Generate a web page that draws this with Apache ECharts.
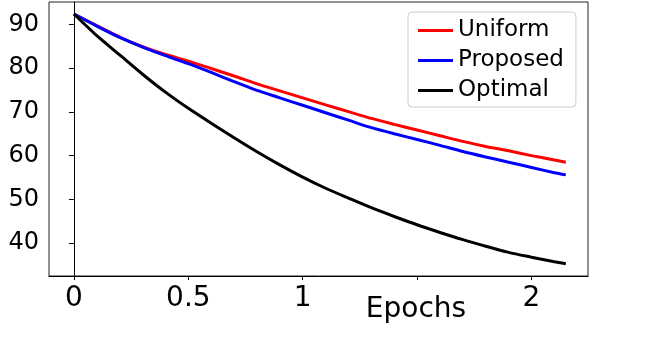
<!DOCTYPE html>
<html>
<head>
<meta charset="utf-8">
<script src="https://cdn.jsdelivr.net/npm/echarts@6/dist/echarts.min.js"></script>
<style>
html, body { margin: 0; padding: 0; background: #fff; }
#main { width: 658px; height: 347px; }
</style>
</head>
<body>
<div id="main"></div>
<script>
// values
var epochs = [0, 0.1, 0.2, 0.3, 0.4, 0.5, 0.6, 0.7, 0.8, 0.9, 1.0, 1.1, 1.2, 1.3, 1.4, 1.5, 1.6, 1.7, 1.8, 1.9, 2.0, 2.1, 2.15];
var uniform = [92.35, 89.7, 87.1, 84.9, 83.1, 81.6, 79.9, 78.2, 76.4, 74.8, 73.2, 71.6, 70.05, 68.5, 67.15, 65.85, 64.55, 63.25, 62.1, 61.1, 60.0, 59.0, 58.5];
var proposed = [92.35, 89.6, 87.0, 84.8, 82.85, 81.0, 79.0, 76.9, 74.9, 73.2, 71.5, 69.8, 68.1, 66.4, 65.0, 63.7, 62.35, 60.95, 59.7, 58.5, 57.3, 56.1, 55.6];
var optimal = [92.35, 87.4, 83.0, 78.6, 74.5, 70.8, 67.4, 64.1, 60.9, 57.9, 55.1, 52.55, 50.3, 48.1, 46.1, 44.2, 42.45, 40.8, 39.3, 37.9, 36.8, 35.75, 35.3];
var xTicks = [0, 0.5, 1, 1.5, 2];
var xTickLabels = [0, 0.5, 1, 2];
var yTicks = [40, 50, 60, 70, 80, 90];
var seriesNames = ['Uniform', 'Proposed', 'Optimal'];
var seriesColors = ['#ff0000', '#0000ff', '#000000'];

function pairs(vals) {
    return epochs.map(function (e, i) { return [e, vals[i]]; });
}

var font = 'DejaVu Sans';
var chart = echarts.init(document.getElementById('main'));
chart.setOption({
    animation: false,
    grid: {
        left: 49, right: 70, top: 2, bottom: 71,
        show: true, borderColor: '#222', borderWidth: 1
    },
    xAxis: {
        type: 'value',
        min: -0.109, max: 2.247,
        splitLine: { show: false },
        axisLine: { lineStyle: { color: '#000' } },
        axisTick: { customValues: xTicks, length: 4, lineStyle: { color: '#000' } },
        axisLabel: {
            customValues: xTickLabels, margin: 9,
            color: '#000', fontSize: 28, fontFamily: font,
            formatter: function (v) { return String(v); }
        }
    },
    yAxis: {
        type: 'value',
        min: 32.5, max: 95.1,
        splitLine: { show: false },
        axisLine: { show: true, lineStyle: { color: '#000' } },
        axisTick: { show: true, customValues: yTicks, length: 5, lineStyle: { color: '#000' } },
        axisLabel: {
            customValues: yTicks, margin: 10,
            color: '#000', fontSize: 24, fontFamily: font
        }
    },
    legend: {
        orient: 'vertical',
        left: 408, top: 12,
        padding: [7, 12, 5, 10],
        itemGap: 7,
        icon: 'rect',
        itemWidth: 35, itemHeight: 3,
        borderColor: '#cccccc', borderWidth: 1, borderRadius: 4,
        backgroundColor: 'rgba(255,255,255,0.8)',
        textStyle: { color: '#000', fontSize: 23, fontFamily: font },
        data: seriesNames
    },
    graphic: [{
        type: 'text', x: 416, y: 310,
        style: { text: 'Epochs', align: 'center', verticalAlign: 'middle', fontSize: 28, fontFamily: font, fill: '#000' }
    }],
    series: [uniform, proposed, optimal].map(function (vals, i) {
        return {
            name: seriesNames[i],
            type: 'line',
            data: pairs(vals),
            symbol: 'none',
            smooth: 0.25,
            color: seriesColors[i],
            lineStyle: { width: 3, color: seriesColors[i] }
        };
    })
});
window.onresize = chart.resize;
</script>
</body>
</html>
